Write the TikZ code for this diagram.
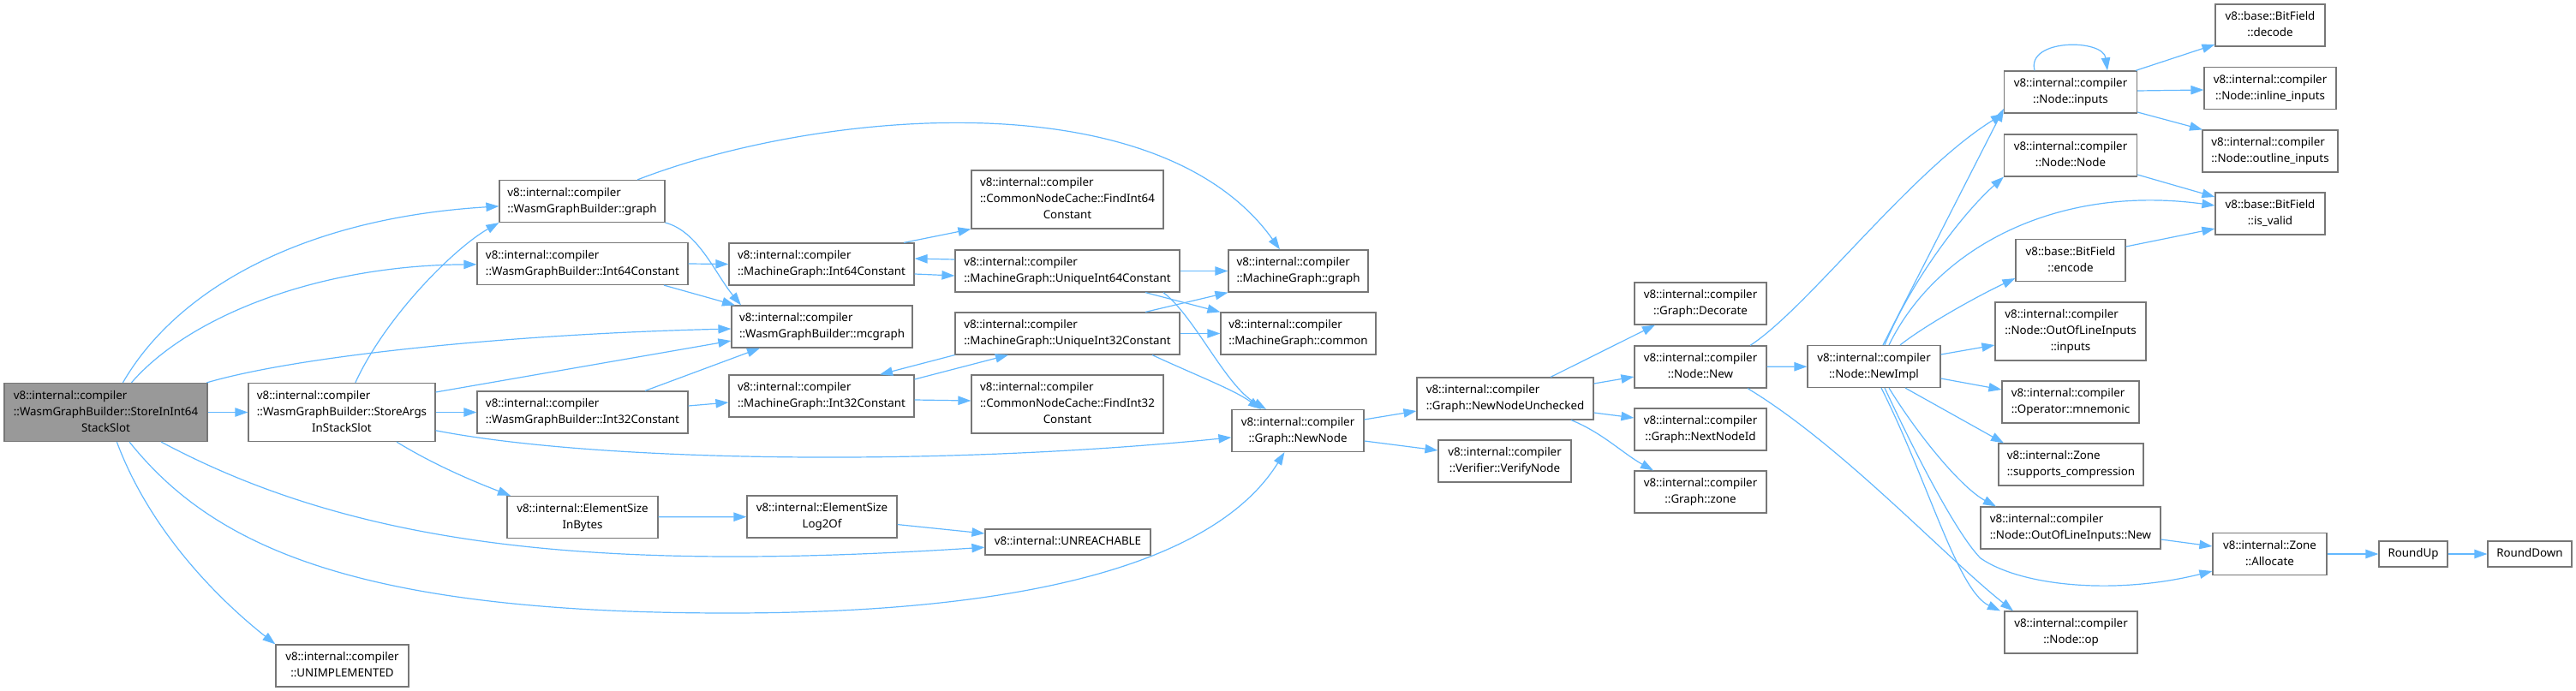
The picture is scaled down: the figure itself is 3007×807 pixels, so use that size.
\documentclass[tikz,border=0pt]{standalone}
\usepackage{fontspec}
\setmainfont{Noto Sans}
\usetikzlibrary{arrows.meta}
\definecolor{edgecol}{HTML}{63B8FF}
\definecolor{bordercol}{HTML}{777777}
\definecolor{rootfill}{HTML}{999999}
\newcommand{\lblA}[1]{\begin{tabular}{@{}c@{}}#1\end{tabular}}
\newcommand{\lblB}[2]{\begin{tabular}{@{}l@{}}#1\\\multicolumn{1}{@{}c@{}}{#2}\end{tabular}}
\newcommand{\lblC}[3]{\begin{tabular}{@{}l@{}}#1\\#2\\\multicolumn{1}{@{}c@{}}{#3}\end{tabular}}
\tikzset{
  bx/.style 2 args={draw=bordercol, fill=white, line width=0.6pt, inner sep=0pt,
    minimum width=#1*0.5pt, minimum height=#2*0.5pt,
    font=\fontsize{6.67}{9.5}\selectfont},
  e/.style={draw=edgecol, line width=0.6pt, -{Triangle[length=7.5pt,width=5.2pt]}}
}
\begin{document}
\begin{tikzpicture}[x=0.5pt,y=-0.5pt]
\useasboundingbox (0,0) rectangle (3007,807);
% column 1-2
\node[bx={237}{68}, fill=rootfill] (S) at (123.5,481.5) {\lblC{v8::internal::compiler}{::WasmGraphBuilder::StoreInInt64}{StackSlot}};
\node[bx={218}{68}] (A) at (399,481.5) {\lblC{v8::internal::compiler}{::WasmGraphBuilder::StoreArgs}{InStackSlot}};
\node[bx={155}{49}] (U) at (399.5,777.5) {\lblB{v8::internal::compiler}{::UNIMPLEMENTED}};
% column 3
\node[bx={193}{49}] (G) at (679.5,235) {\lblB{v8::internal::compiler}{::WasmGraphBuilder::graph}};
\node[bx={246}{49}] (I64W) at (680,308) {\lblB{v8::internal::compiler}{::WasmGraphBuilder::Int64Constant}};
\node[bx={246}{49}] (I32W) at (680,481.5) {\lblB{v8::internal::compiler}{::WasmGraphBuilder::Int32Constant}};
\node[bx={176}{49}] (ESIB) at (680,604) {\lblB{v8::internal::ElementSize}{InBytes}};
% column 4
\node[bx={216}{49}] (M64) at (959,308.5) {\lblB{v8::internal::compiler}{::MachineGraph::Int64Constant}};
\node[bx={211}{49}] (MC) at (959.5,381.5) {\lblB{v8::internal::compiler}{::WasmGraphBuilder::mcgraph}};
\node[bx={216}{49}] (M32) at (959,462.5) {\lblB{v8::internal::compiler}{::MachineGraph::Int32Constant}};
\node[bx={175}{49}] (L2) at (959.5,603.5) {\lblB{v8::internal::ElementSize}{Log2Of}};
% column 5
\node[bx={224}{68}] (F64) at (1246,233) {\lblC{v8::internal::compiler}{::CommonNodeCache::FindInt64}{Constant}};
\node[bx={262}{49}] (U64) at (1246,316.5) {\lblB{v8::internal::compiler}{::MachineGraph::UniqueInt64Constant}};
\node[bx={262}{49}] (U32) at (1246,389.5) {\lblB{v8::internal::compiler}{::MachineGraph::UniqueInt32Constant}};
\node[bx={224}{68}] (F32) at (1246,472) {\lblC{v8::internal::compiler}{::CommonNodeCache::FindInt32}{Constant}};
\node[bx={193}{30}] (UR) at (1246.5,633) {\lblA{v8::internal::UNREACHABLE}};
% column 6
\node[bx={163}{49}] (MGg) at (1515.5,316.5) {\lblB{v8::internal::compiler}{::MachineGraph::graph}};
\node[bx={181}{49}] (MGc) at (1515.5,389.5) {\lblB{v8::internal::compiler}{::MachineGraph::common}};
\node[bx={154}{49}] (NN) at (1515,503) {\lblB{v8::internal::compiler}{::Graph::NewNode}};
% column 7
\node[bx={206}{49}] (NNU) at (1757,465.5) {\lblB{v8::internal::compiler}{::Graph::NewNodeUnchecked}};
\node[bx={155}{49}] (VN) at (1756.5,538.5) {\lblB{v8::internal::compiler}{::Verifier::VerifyNode}};
% column 8
\node[bx={154}{49}] (DEC) at (1985,354.5) {\lblB{v8::internal::compiler}{::Graph::Decorate}};
\node[bx={154}{49}] (NEW) at (1985,428.5) {\lblB{v8::internal::compiler}{::Node::New}};
\node[bx={154}{49}] (NID) at (1985,501.5) {\lblB{v8::internal::compiler}{::Graph::NextNodeId}};
\node[bx={154}{49}] (ZONE) at (1985,574.5) {\lblB{v8::internal::compiler}{::Graph::zone}};
% column 9
\node[bx={155}{49}] (NI) at (2187.5,428) {\lblB{v8::internal::compiler}{::Node::NewImpl}};
% column 10
\node[bx={155}{49}] (INP) at (2417,107.5) {\lblB{v8::internal::compiler}{::Node::inputs}};
\node[bx={155}{49}] (NODE) at (2417,181.5) {\lblB{v8::internal::compiler}{::Node::Node}};
\node[bx={128}{49}] (ENC) at (2417,304) {\lblB{v8::base::BitField}{::encode}};
\node[bx={176}{68}] (OOLI) at (2417,387) {\lblC{v8::internal::compiler}{::Node::OutOfLineInputs}{::inputs}};
\node[bx={160}{49}] (MNE) at (2417,469.5) {\lblB{v8::internal::compiler}{::Operator::mnemonic}};
\node[bx={169}{49}] (SC) at (2417.5,542.5) {\lblB{v8::internal::Zone}{::supports\_compression}};
\node[bx={210}{49}] (OOLN) at (2417,616.5) {\lblB{v8::internal::compiler}{::Node::OutOfLineInputs::New}};
\node[bx={155}{49}] (OP) at (2417.5,738.5) {\lblB{v8::internal::compiler}{::Node::op}};
% column 11
\node[bx={128}{49}] (DEC2) at (2650,29.5) {\lblB{v8::base::BitField}{::decode}};
\node[bx={154}{49}] (INL) at (2650,103) {\lblB{v8::internal::compiler}{::Node::inline\_inputs}};
\node[bx={158}{49}] (OUTL) at (2650,176.5) {\lblB{v8::internal::compiler}{::Node::outline\_inputs}};
\node[bx={128}{49}] (ISV) at (2650,249.5) {\lblB{v8::base::BitField}{::is\_valid}};
\node[bx={133}{49}] (ALLOC) at (2649.5,647) {\lblB{v8::internal::Zone}{::Allocate}};
% column 12-13
\node[bx={80}{30}] (RU) at (2817,647) {\lblA{RoundUp}};
\node[bx={98}{30}] (RD) at (2953,647) {\lblA{RoundDown}};

% edges from S
\draw[e] (S.east) -- (A.west);
\draw[e] (S) .. controls (205,340) and (350,255) .. (G);
\draw[e] (S) .. controls (220,370) and (370,310) .. (I64W);
\draw[e] (S) .. controls (350,415) and (600,390) .. (MC);
\draw[e] (S) .. controls (175,620) and (255,700) .. (U.north west);
\draw[e] (S) .. controls (420,640) and (700,668) .. (UR);
\draw[e] (S) .. controls (250,640) and (420,716) .. (850,716) .. controls (1250,716) and (1430,640) .. (NN);
% edges from A
\draw[e] (A) .. controls (450,370) and (530,290) .. (G.south west);
\draw[e] (A.east |- 0,458) -- (MC.west |- 0,398);
\draw[e] (A.east) -- (I32W.west);
\draw[e] (463,0 |- A.south) .. controls (510,545) and (560,565) .. (596,0 |- ESIB.north);
\draw[e] (A) .. controls (700,540) and (1100,545) .. (NN);
% edges from column 3
\draw[e] (G) .. controls (950,130) and (1350,90) .. (1494,0 |- MGg.north);
\draw[e] (G.south east) .. controls (815,270) and (835,320) .. (865,0 |- MC.north);
\draw[e] (I64W.east) -- (M64.west);
\draw[e] (775,0 |- I64W.south) -- (858,0 |- MC.north);
\draw[e] (I32W.east |- 0,474) -- (M32.west |- 0,470);
\draw[e] (753,0 |- I32W.north) -- (887,0 |- MC.south);
\draw[e] (ESIB) -- (L2);
\draw[e] (L2) -- (UR);
% edges from column 4/5
\draw[e] (1055,0 |- M64.north) -- (F64.south west);
\draw[e] (M64.east |- 0,320) -- (U64.west |- 0,322);
\draw[e] (U64.west |- 0,303) -- (M64.east |- 0,302);
\draw[e] (U64) -- (MGg);
\draw[e] (1337,0 |- U64.south) -- (MGc.north west);
\draw[e] (1358,0 |- U64.south) .. controls (1395,370) and (1430,450) .. (1478,0 |- NN.north);
\draw[e] (1337,0 |- U32.north) -- (MGg.south west);
\draw[e] (U32) -- (MGc);
\draw[e] (U32.south west) -- (1027,0 |- M32.north);
\draw[e] (1345,0 |- U32.south) .. controls (1400,440) and (1440,455) .. (1472,0 |- NN.north);
\draw[e] (M32.east |- 0,443) -- (1177,0 |- U32.south);
\draw[e] (M32.east |- 0,467) -- (F32.west |- 0,468);
% edges from NewNode and NewNodeUnchecked
\draw[e] (NN.east |- 0,490) -- (NNU.west |- 0,480);
\draw[e] (NN.east |- 0,515) -- (VN.west |- 0,526);
\draw[e] (1810,0 |- NNU.north) -- (1932,0 |- DEC.south);
\draw[e] (NNU.east |- 0,448) -- (NEW.west |- 0,440);
\draw[e] (NNU.east |- 0,482) -- (NID.west |- 0,488);
\draw[e] (1834,0 |- NNU.south) .. controls (1870,505) and (1895,530) .. (1930,0 |- ZONE.north);
% edges from Node::New
\draw[e] (NEW) -- (NI);
\draw[e] (2043,0 |- NEW.north) .. controls (2110,360) and (2230,200) .. (INP.south west);
\draw[e] (2040,0 |- NEW.south) .. controls (2150,520) and (2270,650) .. (2350,0 |- OP.north);
% edges from Node::NewImpl
\draw[e] (2198,0 |- NI.north) -- (INP.west |- 0,127);
\draw[e] (2200,0 |- NI.north) .. controls (2230,330) and (2290,250) .. (NODE.south west);
\draw[e] (2205,0 |- NI.north) .. controls (2260,290) and (2400,215) .. (ISV.west |- 0,240);
\draw[e] (2218,0 |- NI.north) .. controls (2250,378) and (2310,345) .. (ENC.west |- 0,325);
\draw[e] (NI.east |- 0,414) -- (OOLI.west |- 0,403);
\draw[e] (NI.east |- 0,442) -- (MNE.west |- 0,455);
\draw[e] (2224,0 |- NI.south) -- (2339,0 |- SC.north);
\draw[e] (2205,0 |- NI.south) .. controls (2240,510) and (2290,570) .. (2330,0 |- OOLN.north);
\draw[e] (2200,0 |- NI.south) .. controls (2250,560) and (2290,630) .. (2312,652) .. controls (2360,685) and (2470,695) .. (ALLOC.west |- 0,667);
\draw[e] (2196,0 |- NI.south) .. controls (2250,560) and (2285,690) .. (2335,0 |- OP.north);
% edges from column 10
\draw[e] (2375,0 |- INP.north) .. controls (2365,45) and (2455,45) .. (2460,0 |- INP.north);
\draw[e] (2493,0 |- INP.north) -- (DEC2.west |- 0,52);
\draw[e] (INP.east |- 0,106) -- (INL.west |- 0,105);
\draw[e] (INP.east |- 0,131) -- (2571,0 |- OUTL.north);
\draw[e] (NODE.east |- 0,204) -- (ISV.west |- 0,230);
\draw[e] (ENC.east |- 0,288) -- (ISV.west |- 0,267);
\draw[e] (OOLN.east |- 0,630) -- (ALLOC.west |- 0,638);
\draw[e] (ALLOC) -- (RU);
\draw[e] (RU) -- (RD);
\end{tikzpicture}
\end{document}
